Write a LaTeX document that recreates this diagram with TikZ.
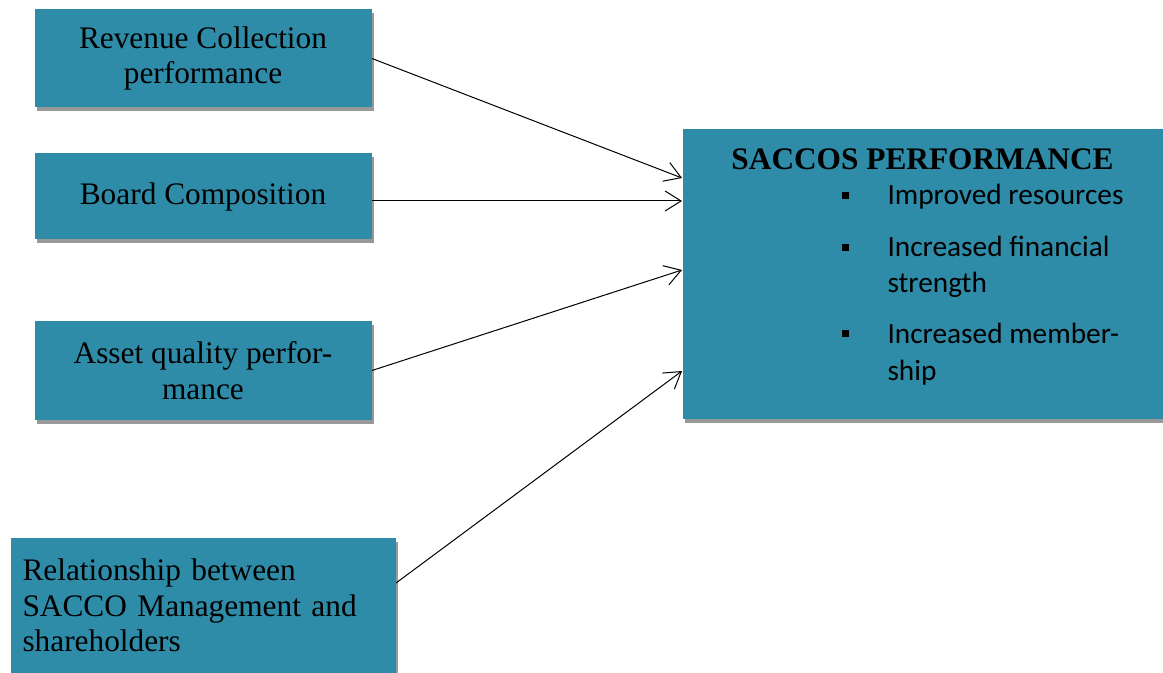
\documentclass[tikz,border=0pt]{standalone}
\usepackage{fontspec}
\setmainfont{Liberation Serif}
\newfontfamily\itemfont{Carlito}
\usetikzlibrary{arrows.meta,shadows}

\definecolor{saccoteal}{RGB}{47,140,168}

\tikzset{every picture/.style={line width=0.75pt}}

\begin{document}
\begin{tikzpicture}[x=0.75pt,y=0.75pt,yscale=-1,xscale=1,
	factor/.style={rectangle, fill=saccoteal, draw=none, anchor=north west, inner sep=0pt,
		drop shadow={shadow xshift=1.5pt, shadow yshift=-3pt, fill=black, opacity=0.4},
		font=\fontsize{23.5}{26.5}\selectfont, align=center},
	itemtext/.style={anchor=base west, inner sep=0pt, align=left,
		font=\itemfont\fontsize{22}{27.4}\selectfont},
	itemmark/.style={rectangle, fill=black, inner sep=0pt, minimum size=5.25pt},
	link/.style={-{Straight Barb[length=12pt,width=15pt]}}]
	\useasboundingbox (0,0) rectangle (1163,673);

	% Factor boxes (left)
	\node[factor, minimum width=252.75pt, minimum height=73.5pt] (rev) at (34,9) {Revenue Collection\\performance};
	\node[factor, minimum width=252.75pt, minimum height=64.5pt] (board) at (34,153) {Board Composition};
	\node[factor, minimum width=252.75pt, minimum height=73.5pt] (asset) at (34,321) {Asset quality perfor-\\mance};
	\node[factor, minimum width=288.75pt, minimum height=102pt, align=left, text width=270.75pt, inner xsep=9pt] (rel) at (10,537) {Relationship between\\SACCO Management and\\shareholders};

	% Outcome box (right)
	\node[factor, minimum width=363.75pt, minimum height=216.75pt] (perf) at (682,129) {};
	\node[anchor=base, inner sep=0pt, font=\bfseries\fontsize{23.5}{26.5}\selectfont] (title) at (922.5,170) {SACCOS PERFORMANCE};

	% Bullet list (base = last line)
	\node[itemmark] (m1) at (845.5,195.5) {};
	\node[itemtext] (i1) at (887,205) {Improved resources};
	\node[itemmark] (m2) at (845.5,247.5) {};
	\node[itemtext] (i2) at (887,293) {Increased financial\\strength};
	\node[itemmark] (m3) at (845.5,333.5) {};
	\node[itemtext] (i3) at (887,380) {Increased member-\\ship};

	% Links
	\draw[link] (rev.east) -- (perf.west |- 0,178);
	\draw[link] (board.east |- 0,201) -- (perf.west |- 0,201);
	\draw[link] (asset.east) -- (perf.west |- 0,270);
	\draw[link] (rel.east |- 0,583) -- (perf.west |- 0,371);

\end{tikzpicture}
\end{document}
